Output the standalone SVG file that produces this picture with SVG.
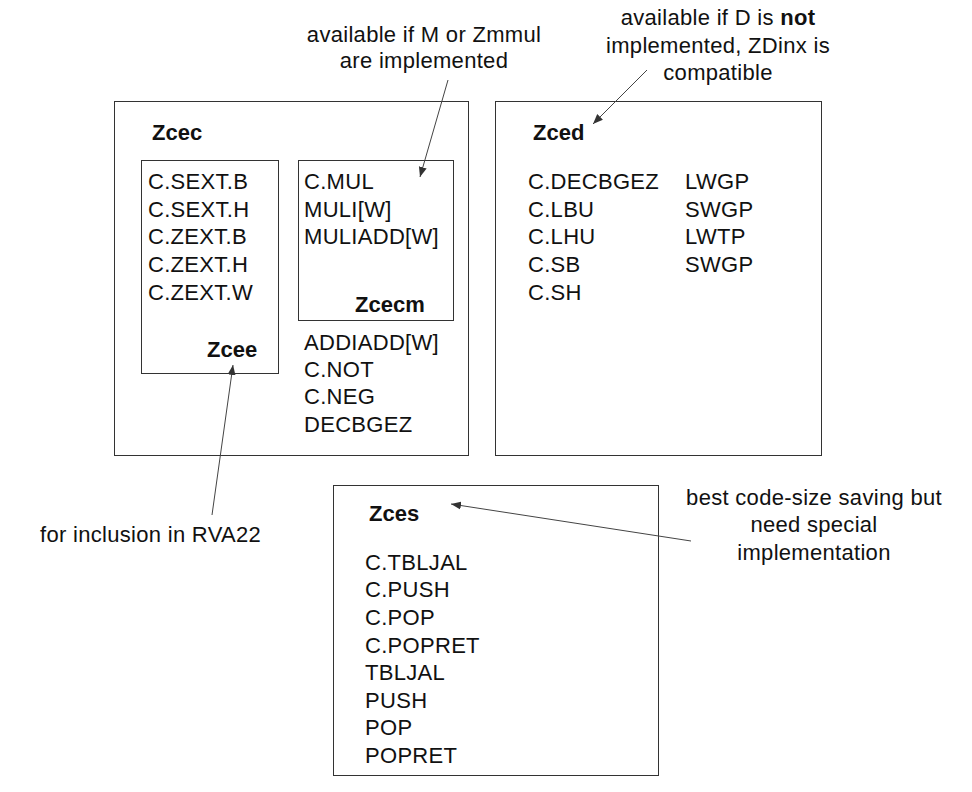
<svg xmlns="http://www.w3.org/2000/svg" width="972" height="792" viewBox="0 0 972 792">
<defs>
<marker id="ah" viewBox="0 0 10 10" refX="10" refY="5" markerWidth="10" markerHeight="10" markerUnits="userSpaceOnUse" orient="auto">
<path d="M0,1 L10,5 L0,9 z" fill="#333"/>
</marker>
</defs>
<style>
.box{fill:#fff;stroke:#333;stroke-width:1}
text{font-family:"Liberation Sans",Arial,sans-serif;font-size:22px;letter-spacing:0.3px;fill:#111}
.h{font-weight:bold;letter-spacing:0}
.c{text-anchor:middle}
.con{stroke:#444;stroke-width:1;fill:none;marker-end:url(#ah)}
</style>
<rect width="972" height="792" fill="#fff"/>
<g id="zcec">
<rect class="box" x="114.5" y="101.5" width="354" height="354"/>
<text class="h" x="152" y="140">Zcec</text>
<text x="304" y="350">ADDIADD[W]</text>
<text x="304" y="377">C.NOT</text>
<text x="304" y="404">C.NEG</text>
<text x="304" y="432">DECBGEZ</text>
</g>
<g id="zcee">
<rect class="box" x="141.5" y="160.5" width="137" height="213"/>
<text x="148" y="189">C.SEXT.B</text>
<text x="148" y="217">C.SEXT.H</text>
<text x="148" y="244">C.ZEXT.B</text>
<text x="148" y="272">C.ZEXT.H</text>
<text x="148" y="300">C.ZEXT.W</text>
<text class="h" x="207" y="357">Zcee</text>
</g>
<g id="zcecm">
<rect class="box" x="298.5" y="160.5" width="155" height="160"/>
<text x="304" y="189">C.MUL</text>
<text x="304" y="217">MULI[W]</text>
<text x="304" y="244">MULIADD[W]</text>
<text class="h" x="355" y="312">Zcecm</text>
</g>
<g id="zced">
<rect class="box" x="495.5" y="101.5" width="326" height="354"/>
<text class="h" x="533" y="140">Zced</text>
<text x="528" y="189">C.DECBGEZ</text>
<text x="528" y="217">C.LBU</text>
<text x="528" y="244">C.LHU</text>
<text x="528" y="272">C.SB</text>
<text x="528" y="300">C.SH</text>
<text x="685" y="189">LWGP</text>
<text x="685" y="217">SWGP</text>
<text x="685" y="244">LWTP</text>
<text x="685" y="272">SWGP</text>
</g>
<g id="zces">
<rect class="box" x="333.5" y="485.5" width="325" height="290"/>
<text class="h" x="369" y="521">Zces</text>
<text x="365" y="570">C.TBLJAL</text>
<text x="365" y="597">C.PUSH</text>
<text x="365" y="625">C.POP</text>
<text x="365" y="653">C.POPRET</text>
<text x="365" y="680">TBLJAL</text>
<text x="365" y="708">PUSH</text>
<text x="365" y="735">POP</text>
<text x="365" y="763">POPRET</text>
</g>
<g id="note-m">
<text class="c" x="424" y="42">available if M or Zmmul</text>
<text class="c" x="424" y="68">are implemented</text>
</g>
<g id="note-d">
<text class="c" x="718" y="25">available if D is <tspan font-weight="bold">not</tspan></text>
<text class="c" x="718" y="53">implemented, ZDinx is</text>
<text class="c" x="718" y="80">compatible</text>
</g>
<g id="note-s">
<text class="c" x="814" y="505">best code-size saving but</text>
<text class="c" x="814" y="532">need special</text>
<text class="c" x="814" y="560">implementation</text>
</g>
<g id="note-rva">
<text x="40" y="542">for inclusion in RVA22</text>
</g>
<g id="connectors">
<line class="con" x1="448" y1="80" x2="420" y2="177"/>
<line class="con" x1="647" y1="70" x2="593" y2="124"/>
<line class="con" x1="691" y1="541" x2="451" y2="504"/>
<line class="con" x1="212" y1="515" x2="233" y2="365"/>
</g>
</svg>
